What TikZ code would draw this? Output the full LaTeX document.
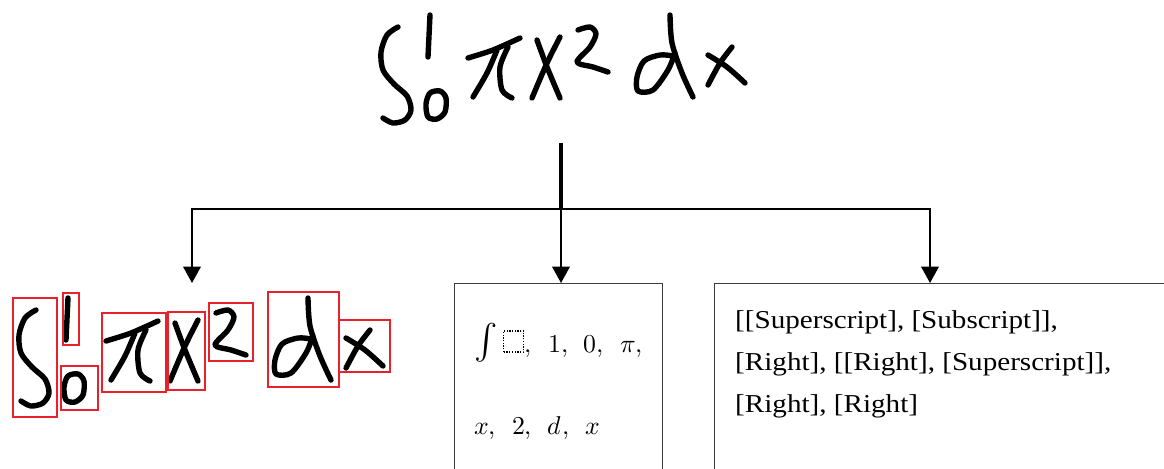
\documentclass[tikz,border=0pt]{standalone}
\usepackage{unicode-math}
\setmathfont{Latin Modern Math}
\newfontfamily\bookfont[FakeStretch=1.13]{Liberation Serif}
\usetikzlibrary{arrows.meta}
\definecolor{boxred}{RGB}{232,34,42}
\definecolor{framegray}{RGB}{60,60,60}

% handwritten strokes of the formula, in pixel coordinates
\newcommand{\handformula}{%
  \draw[ink] plot[smooth] coordinates {(398,27) (387,35) (381,52) (383,70) (394,84) (407,96) (411,110) (405,120) (393,123) (383,118)};
  \draw[ink] (430,15) -- (428,57);
  \draw[ink] plot[smooth cycle] coordinates {(440,91) (446,98) (445,112) (437,119) (428,117) (426,104) (430,93)};
  \draw[ink] plot[smooth] coordinates {(468,58) (493,50) (520,38)};
  \draw[ink] plot[smooth] coordinates {(497,50) (487,73) (473,97)};
  \draw[ink] plot[smooth] coordinates {(508,47) (500,67) (502,90) (512,98)};
  \draw[ink] plot[smooth] coordinates {(537,40) (547,67) (560,98)};
  \draw[ink] plot[smooth] coordinates {(560,37) (547,63) (532,98)};
  \draw[ink] plot[smooth] coordinates {(578,30) (590,27) (596,34) (590,47) (577,62) (593,67) (608,72)};
  \draw[ink] plot[smooth] coordinates {(670,15) (672,43) (682,73) (693,97)};
  \draw[ink] plot[smooth] coordinates {(673,56) (660,55) (644,61) (637,77) (638,91) (653,90) (668,70) (675,53)};
  \draw[ink] plot[smooth] coordinates {(708,55) (727,67) (745,83)};
  \draw[ink] plot[smooth] coordinates {(732,47) (720,63) (708,85)};
}
\newcommand{\dotsquare}{\tikz[baseline=0pt]\draw[line width=1.1pt,dash pattern=on 1.1pt off 1.2pt] (0,0) rectangle (0.78em,0.82em);}

\begin{document}
\begin{tikzpicture}[x=0.03cm,y=-0.03cm,
  ink/.style={line width=4.6pt,line cap=round,line join=round},
  glyphbox/.style={draw=boxred,line width=1.7pt},
  frame/.style={draw=framegray,line width=1pt,anchor=north west,inner sep=0pt},
  link/.style={line width=1.6pt,-{Triangle[width=15pt,length=14pt]}},
  mathtext/.style={anchor=base west,inner sep=0pt,font=\fontsize{22}{26}\selectfont},
  listtext/.style={anchor=base west,inner sep=0pt,font=\bookfont\fontsize{22}{26}\selectfont}]
  \useasboundingbox (0,0) rectangle (1164,468);

  % formula at the top
  \handformula

  % the same strokes, split into symbols
  \begin{scope}[shift={(-362,283)}]
    \handformula
  \end{scope}
  \draw[glyphbox] (13,298) rectangle (57,417);
  \draw[glyphbox] (63,293) rectangle (79,345);
  \draw[glyphbox] (61,366) rectangle (98,410);
  \draw[glyphbox] (102,313) rectangle (166,392);
  \draw[glyphbox] (168,312) rectangle (205,390);
  \draw[glyphbox] (209,303) rectangle (253,361);
  \draw[glyphbox] (268,292) rectangle (339,387);
  \draw[glyphbox] (339,320) rectangle (390,372);

  % boxes
  \node[frame,minimum width=6.24cm,minimum height=6cm] (midbox) at (454,283) {};
  \node[frame,minimum width=14cm,minimum height=6cm] (rightbox) at (714,283) {};
  \node[mathtext] (symline1) at (474,352) {{\fontsize{30}{30}\selectfont$\int$}\hspace{0.2em}\dotsquare$,\hspace{0.5em}1,\hspace{0.4em}0,\hspace{0.5em}\pi,$};
  \node[mathtext] (symline2) at (474,434) {$x,\hspace{0.45em}2,\hspace{0.45em}d,\hspace{0.45em}x$};
  \node[listtext] (relline1) at (735,328) {[[Superscript], [Subscript]],};
  \node[listtext] (relline2) at (735,370) {[Right], [[Right], [Superscript]],};
  \node[listtext] (relline3) at (735,412) {[Right], [Right]};

  % connectors
  \coordinate (top) at (561,143);
  \coordinate (hub) at (561,209);
  \coordinate (ltip) at (192,283);
  \coordinate (rtip) at (930,283);
  \draw[line width=3pt] (top) -- (hub);
  \draw[link] (hub) -| (ltip);
  \draw[link] (hub) -- (hub |- midbox.north);
  \draw[link] (hub) -| (rtip);
\end{tikzpicture}
\end{document}
